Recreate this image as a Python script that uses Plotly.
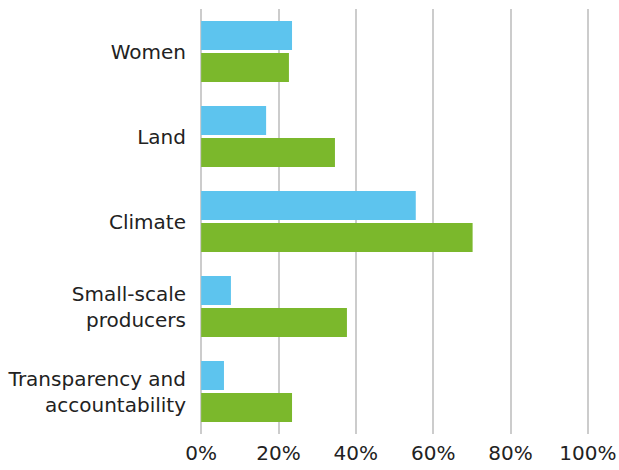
import plotly.graph_objects as go

categories = ["Women", "Land", "Climate", "Small-scale<br>producers", "Transparency and<br>accountability"]
blue_values = [23.5, 16.8, 55.5, 7.7, 5.9]
green_values = [22.7, 34.6, 70.2, 37.7, 23.5]
tick_vals = [0, 20, 40, 60, 80, 100]
tick_text = ["0%", "20%", "40%", "60%", "80%", "100%"]

cats_rev = categories[::-1]
fig = go.Figure()
fig.add_trace(go.Bar(y=cats_rev, x=green_values[::-1], orientation="h",
                     marker=dict(color="#7BB82C", line=dict(width=0)), showlegend=False))
fig.add_trace(go.Bar(y=cats_rev, x=blue_values[::-1], orientation="h",
                     marker=dict(color="#5DC4EE", line=dict(width=0)), showlegend=False))

fig.update_layout(
    width=619, height=470,
    margin=dict(l=200, r=30, t=9, b=36),
    barmode="group", bargap=0.247, bargroupgap=0.094,
    plot_bgcolor="white", paper_bgcolor="white",
    font=dict(family="DejaVu Sans", size=20, color="#222222"),
    xaxis=dict(range=[-0.3, 100.3], tickvals=tick_vals, ticktext=tick_text,
               showgrid=True, gridcolor="#cccccc", gridwidth=1.5,
               zeroline=False, showline=False, ticks="", ticklabelstandoff=5,
               automargin=False),
    yaxis=dict(categoryorder="array", categoryarray=cats_rev,
               showgrid=False, zeroline=False, showline=False,
               ticks="", ticklabelstandoff=13, automargin=False),
)
fig.write_html("out.html", config={"displayModeBar": False},
               post_script="document.body.style.margin='0';document.body.style.overflow='hidden';")
